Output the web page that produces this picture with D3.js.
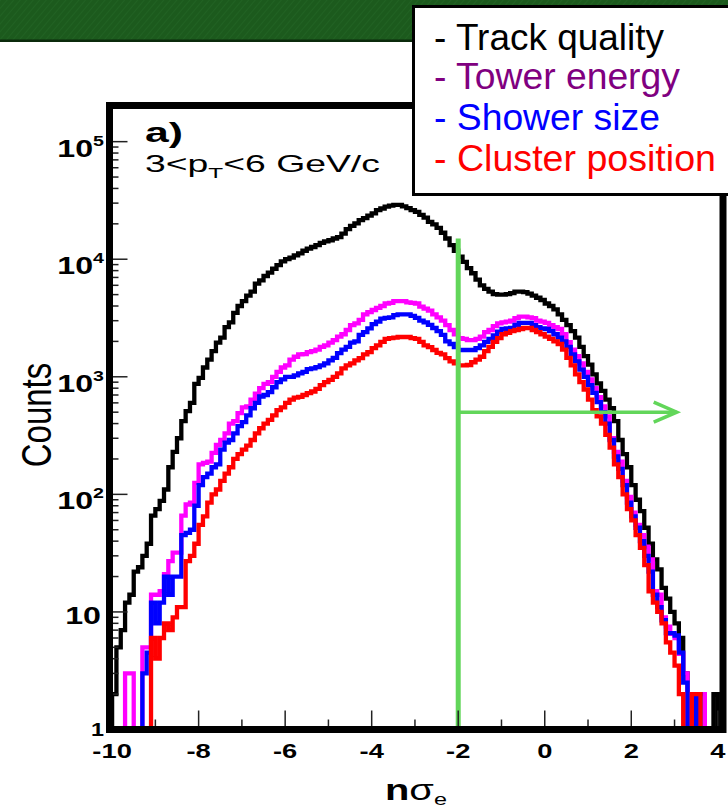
<!DOCTYPE html>
<html>
<head>
<meta charset="utf-8">
<script src="https://cdn.jsdelivr.net/npm/d3@7"></script>
<style>
  body { margin: 0; background: #fff; }
  svg { display: block; }
</style>
</head>
<body>
<div id="chart"></div>
<script>
// histogram binning of n sigma_e
var binLow = -10, binWidth = 0.1;

// counts per bin (140 bins, -10 .. 4)
var trackQuality = [
  2, 5, 7, 12, 14, 22, 24, 30, 38, 66,
  75, 88, 110, 170, 230, 300, 420, 510, 600, 870,
  980, 1200, 1400, 1650, 1950, 2150, 2650, 2900, 3500, 4000,
  4400, 4900, 5300, 6200, 6600, 7200, 7700, 8300, 8900, 9600,
  10000, 10300, 10800, 11200, 11800, 12300, 12700, 13200, 13800, 14200,
  14500, 15000, 15400, 16500, 18000, 19200, 20200, 21500, 22400, 23500,
  24500, 26200, 27000, 28000, 28600, 29000, 29000, 28200, 27200, 26200,
  25300, 23800, 22600, 20800, 19800, 18500, 16800, 15000, 13200, 11800,
  10500, 9500, 8400, 7600, 6700, 6000, 5600, 5300, 5050, 5000,
  5000, 5050, 5150, 5300, 5300, 5250, 5100, 4900, 4700, 4500,
  4200, 4000, 3750, 3400, 3050, 2750, 2450, 2150, 1800, 1500,
  1270, 1050, 880, 760, 640, 540, 420, 290, 220, 170,
  120, 90, 72, 52, 38, 28, 23, 16, 13, 10,
  8, 6, 3, 0, 0, 0, 0, 0, 0, 2
];
var towerEnergy = [
  0, 0, 0, 3, 3, 0, 0, 5, 5, 14,
  14, 15, 21, 27, 32, 32, 66, 82, 85, 125,
  180, 185, 190, 225, 263, 290, 330, 400, 420, 490,
  550, 560, 640, 720, 800, 870, 900, 1000, 1100, 1200,
  1250, 1400, 1480, 1550, 1560, 1620, 1650, 1700, 1800, 1850,
  1950, 2050, 2200, 2300, 2500, 2750, 2850, 3050, 3400, 3550,
  3700, 3850, 4000, 4200, 4250, 4400, 4400, 4400, 4300, 4250,
  4200, 3950, 3800, 3650, 3400, 3200, 3000, 2750, 2500, 2300,
  2130, 2100, 2050, 2050, 2100, 2200, 2400, 2500, 2700, 2850,
  2900, 2950, 3000, 3150, 3250, 3250, 3200, 3150, 3000, 2950,
  2880, 2750, 2650, 2550, 2300, 1970, 1700, 1500, 1300, 1100,
  950, 800, 670, 560, 460, 300, 230, 190, 130, 95,
  70, 55, 45, 36, 28, 15, 14, 9, 7.5, 6.5,
  6, 4.4, 3, 0, 0, 2, 2, 0, 0, 0
];
var showerSize = [
  0, 0, 0, 0, 0, 0, 0, 3, 4.5, 12,
  8, 12, 20, 14, 20, 20, 45, 47, 50, 80,
  120, 140, 150, 170, 180, 240, 275, 290, 330, 380,
  412, 470, 540, 600, 680, 700, 740, 815, 900, 950,
  1000, 1000, 1030, 1070, 1100, 1160, 1180, 1210, 1250, 1300,
  1380, 1450, 1590, 1700, 1800, 1950, 2000, 2270, 2400, 2580,
  2800, 2950, 3120, 3170, 3200, 3350, 3400, 3400, 3400, 3300,
  3170, 3000, 2900, 2760, 2600, 2450, 2270, 2000, 1900, 1790,
  1690, 1690, 1690, 1690, 1750, 1850, 1980, 2100, 2250, 2420,
  2550, 2580, 2600, 2760, 2880, 2880, 2880, 2750, 2650, 2580,
  2550, 2450, 2300, 2150, 2000, 1800, 1550, 1350, 1150, 1000,
  850, 730, 610, 500, 400, 290, 210, 165, 120, 85,
  65, 52, 40, 30, 22, 14, 11, 8.5, 6.6, 6.6,
  6.3, 4.5, 2.5, 0, 0, 2, 0, 0, 0, 0
];
var clusterPosition = [
  0, 0, 0, 0, 0, 0, 0, 0, 0, 6,
  4, 6, 8, 7, 9, 11, 11, 27, 30, 38,
  55, 65, 85, 100, 110, 130, 150, 170, 200, 220,
  240, 260, 290, 330, 365, 400, 430, 470, 520, 550,
  600, 640, 665, 675, 700, 725, 750, 790, 850, 900,
  940, 1000, 1070, 1180, 1250, 1300, 1380, 1440, 1550, 1620,
  1750, 1850, 1980, 2100, 2130, 2150, 2180, 2180, 2180, 2130,
  2100, 1980, 1850, 1790, 1690, 1600, 1550, 1440, 1350, 1300,
  1250, 1250, 1260, 1330, 1400, 1480, 1650, 1800, 1980, 2130,
  2300, 2360, 2450, 2500, 2550, 2600, 2600, 2500, 2400, 2300,
  2200, 2100, 2000, 1900, 1700, 1450, 1250, 1050, 900, 780,
  640, 520, 460, 400, 320, 250, 180, 140, 100, 75,
  60, 45, 35, 25, 15, 12, 10, 8, 5.5, 4.5,
  3.5, 2, 0, 0, 2, 2, 0, 0, 0, 0
];

var seriesNames = ["Track quality", "Tower energy", "Shower size", "Cluster position"];
var lineColors = ["#000000", "#ff00ff", "#0000ff", "#ff0000"];
var legendColors = ["#000000", "#800080", "#0000ff", "#ff0000"];
var legendWidths = [230, 246, 226, 282];

var xTicks = [-10, -9, -8, -7, -6, -5, -4, -3, -2, -1, 0, 1, 2, 3, 4];
var xLabels = [-10, -8, -6, -4, -2, 0, 2, 4];
var yTicks = [1, 10, 100, 1000, 10000, 100000];
var yExponents = ["", "", "2", "3", "4", "5"];

// electron cut
var cutValue = -2, cutTop = 15000, arrowCount = 500, arrowEnd = 3.05;

var font = "'Liberation Sans', Arial, Helvetica, sans-serif";

var svg = d3.select("#chart").append("svg")
    .attr("width", 728)
    .attr("height", 810);

var frameL = 109.5, frameR = 723, frameT = 105.5, frameB = 729.5;

var x = d3.scaleLinear().domain([-10.06, 4.12]).range([frameL, frameR]);
var y = d3.scaleLog().domain([1, 2.03e5]).range([frameB, frameT]);

var defs = svg.append("defs");

// green banner at the top of the slide
var pat = defs.append("pattern")
    .attr("id", "felt")
    .attr("width", 5).attr("height", 5)
    .attr("patternUnits", "userSpaceOnUse")
    .attr("patternTransform", "rotate(40)");
pat.append("rect").attr("width", 5).attr("height", 5).attr("fill", "#1c5a1d");
pat.append("line")
    .attr("x1", 0).attr("y1", 0).attr("x2", 0).attr("y2", 5)
    .attr("stroke", "#226524").attr("stroke-width", 1.5);

svg.append("rect").attr("width", 728).attr("height", 41).attr("fill", "url(#felt)");
svg.append("rect").attr("y", 39.5).attr("width", 728).attr("height", 2.5).attr("fill", "#0b2a0c");

defs.append("clipPath").attr("id", "plotArea")
  .append("rect")
    .attr("x", frameL).attr("y", frameT)
    .attr("width", frameR - frameL).attr("height", frameB - frameT);

var histPath = function(vals) {
  var yFloor = frameB + 5;
  var pts = [[x(binLow), yFloor]];
  vals.forEach(function(v, i) {
    var lo = binLow + i * binWidth, hi = lo + binWidth;
    var yy = v > 0 ? y(v) : yFloor;
    pts.push([x(lo), yy], [x(hi), yy]);
  });
  pts.push([x(binLow + vals.length * binWidth), yFloor]);
  return d3.line()(pts);
};

var series = [trackQuality, towerEnergy, showerSize, clusterPosition];

svg.append("g")
    .attr("clip-path", "url(#plotArea)")
  .selectAll("path")
    .data(series)
    .enter().append("path")
    .attr("d", histPath)
    .attr("fill", "none")
    .attr("stroke", function(d, i) { return lineColors[i]; })
    .attr("stroke-width", 4.3)
    .attr("stroke-linejoin", "miter");

// cut line and arrow
var green = "#62d65a";
svg.append("line")
    .attr("x1", x(cutValue)).attr("x2", x(cutValue))
    .attr("y1", y(cutTop)).attr("y2", y(1))
    .attr("stroke", green).attr("stroke-width", 5);
svg.append("line")
    .attr("x1", x(cutValue)).attr("x2", x(arrowEnd))
    .attr("y1", y(arrowCount)).attr("y2", y(arrowCount))
    .attr("stroke", green).attr("stroke-width", 3.5);
svg.append("path")
    .attr("d", "M" + (x(arrowEnd) - 23) + "," + (y(arrowCount) - 10) +
               "L" + x(arrowEnd) + "," + y(arrowCount) +
               "L" + (x(arrowEnd) - 23) + "," + (y(arrowCount) + 10))
    .attr("fill", "none").attr("stroke", green).attr("stroke-width", 3.5);

// ticks
var minorY = [];
yTicks.forEach(function(d) {
  for (var k = 2; k <= 9; k++) {
    if (d * k < 2.03e5) minorY.push(d * k);
  }
});

var ticks = svg.append("g").attr("stroke", "#222").attr("stroke-width", 1.5);
ticks.selectAll(".ymaj").data(yTicks).enter().append("line")
    .attr("x1", frameL).attr("x2", frameL + 18)
    .attr("y1", function(d) { return y(d); })
    .attr("y2", function(d) { return y(d); });
ticks.selectAll(".ymin").data(minorY).enter().append("line")
    .attr("x1", frameL).attr("x2", frameL + 9)
    .attr("y1", function(d) { return y(d); })
    .attr("y2", function(d) { return y(d); });
ticks.selectAll(".xt").data(xTicks).enter().append("line")
    .attr("x1", function(d) { return x(d); })
    .attr("x2", function(d) { return x(d); })
    .attr("y1", frameB)
    .attr("y2", function(d) { return d % 2 === 0 ? frameB - 19 : frameB - 10; });

// frame
svg.append("rect")
    .attr("x", frameL).attr("y", frameT)
    .attr("width", frameR - frameL).attr("height", frameB - frameT)
    .attr("fill", "none").attr("stroke", "#000").attr("stroke-width", 7);

// text helpers: the slide stretched the plot horizontally
var place = function(g, px, py, sx) {
  g.attr("transform", "translate(" + px + "," + py + ") scale(" + sx + ",1)");
};
var fit = function(g, px, py, w) {
  var bw = g.node().getBBox().width;
  place(g, px, py, w / bw);
};

// y tick labels
yTicks.forEach(function(d, i) {
  var g = svg.append("g");
  var t = g.append("text")
      .attr("text-anchor", "end")
      .attr("font-family", font)
      .attr("font-weight", "bold")
      .attr("font-size", 23);
  if (yExponents[i]) {
    t.append("tspan").text("10");
    t.append("tspan").attr("dy", -11).attr("font-size", 14).text(yExponents[i]);
    place(g, 104, y(d) + 15, 1.4);
  } else if (d === 10) {
    t.text("10");
    place(g, 101, y(d) + 12, 1.4);
  } else {
    t.attr("font-size", 18).text("1");
    place(g, 104, y(d) + 6, 1.3);
  }
});

// x tick labels
xLabels.forEach(function(d) {
  var g = svg.append("g");
  g.append("text")
      .attr("text-anchor", "middle")
      .attr("font-family", font)
      .attr("font-weight", "bold")
      .attr("font-size", 21)
      .text(d);
  place(g, x(d), 758, 1.3);
});

// axis titles
var yt = svg.append("g")
    .attr("transform", "translate(51,415) scale(1.27,1) rotate(-90)");
yt.append("text")
    .attr("text-anchor", "middle")
    .attr("font-family", font)
    .attr("font-size", 33)
    .text("Counts");

var xt = svg.append("g");
var xtt = xt.append("text").attr("font-family", font).attr("font-size", 29);
xtt.append("tspan").attr("font-weight", "bold").text("n");
xtt.append("tspan").text("\u03c3");
xtt.append("tspan").attr("font-size", 17).attr("dy", 5).text("e");
fit(xt, 385, 800, 62);

// panel labels
var pa = svg.append("g");
pa.append("text")
    .attr("font-family", font).attr("font-weight", "bold").attr("font-size", 27)
    .text("a)");
fit(pa, 145, 142, 38);

var pt = svg.append("g");
var ptt = pt.append("text").attr("font-family", font).attr("font-size", 23);
ptt.append("tspan").text("3<p");
ptt.append("tspan").attr("font-size", 15).attr("dy", 6).text("T");
ptt.append("tspan").attr("dy", -6).text("<6 GeV/c");
fit(pt, 145, 172, 235);

// legend box
svg.append("rect")
    .attr("x", 413.5).attr("y", 6.5)
    .attr("width", 330).attr("height", 188)
    .attr("fill", "#fff").attr("stroke", "#000").attr("stroke-width", 3);

var legendBase = [50, 89, 130, 171];
seriesNames.forEach(function(name, i) {
  var g = svg.append("g");
  g.append("text")
      .attr("font-family", font)
      .attr("font-size", 36)
      .attr("fill", legendColors[i])
      .text("- " + name);
  fit(g, 434, legendBase[i], legendWidths[i]);
});
</script>
</body>
</html>
